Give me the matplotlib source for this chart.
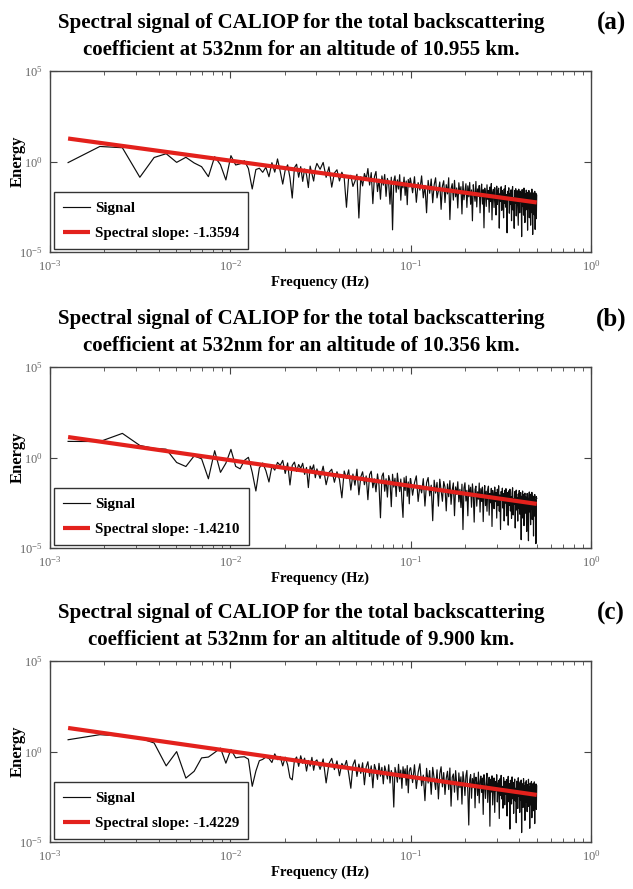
import numpy as np
import matplotlib
matplotlib.use("Agg")
import matplotlib.pyplot as plt

plt.rcParams['font.family'] = ['Liberation Serif', 'DejaVu Serif']
plt.rcParams['mathtext.fontset'] = 'custom'
plt.rcParams['mathtext.rm'] = 'Liberation Serif'
plt.rcParams['mathtext.it'] = 'Liberation Serif:italic'

# panel texts
panel_tags = ['(a)', '(b)', '(c)']
altitudes = ['10.955', '10.356', '9.900']

# fitted spectral slopes and fit value (log10 energy) at the first frequency
fit_slopes = [-1.3594, -1.4210, -1.4229]
fit_start = [1.27, 1.13, 1.30]

# frequency ranges (Hz) of the three pieces of the spectrum
f_low = (0.00126, 0.0296)
f_mid = (0.0302, 0.0995)
f_high = (0.1, 0.5)

# signal: log10 deviation from the fitted line
a_low = [-1.33, -0.2, -0.1, -1.6, -0.4, -0.1, -0.5, -0.15, -0.4, -0.55,
         -1.05, 0.1, -0.3, -1.1, 0.28, -0.2, -0.1, 0.1, -0.3, -1.4,
         -0.3, -0.2, -0.4, -0.1, -0.6, 0.2, -0.3, 0.45, -0.2, -0.9,
         -0.1, 0.2, -0.5, -1.6, 0.1, 0.3, -0.4, 0.2, -0.6, 0.1,
         -0.2, -0.9, 0.3, -0.1, -0.5, 0.2]
a_mid = [0.5, 0.2, 0.6, -0.2, 0.4, -0.7, 0.1, 0.3, -0.3, 0.2,
         -0.1, -1.7, 0.0, 0.1, -0.5, -0.2, 0.2, -2.2, 0.1, -0.4,
         0.3, 0.0, 0.6, -0.3, 0.4, -1.3, 0.2, 0.5, -0.6, 0.1,
         -1.0, 0.3, -0.2, 0.4, -0.8, 0.2, -0.1, -1.2, 0.3, -2.6,
         0.1, 0.4, -0.5, 0.2, -0.3, 0.5, -0.9, 0.1, -0.2, 0.4,
         -0.6, 0.2, -1.1, 0.3, -0.1, 0.4]
a_high = [0.3, -0.4, 0.5, -0.9, 0.2, -0.2, 0.6, -0.6, 0.1, -1.4, 0.4, -0.3, 0.5, -0.8, 0.2, 0.6, -0.5, -0.1, 0.4, -1.1,
          0.2, 0.5, -0.7, 0.3, -0.2, 0.7, -1.6, 0.1, 0.4, -0.5, 0.6, -0.3, 0.2, -0.9, 0.5, -0.1, 0.3, -1.2, 0.6, -0.4,
          0.1, 0.5, -0.8, 0.4, -0.2, 0.6, -0.6, 0.2, -1.5, 0.5, 0.0, -0.4, 0.7, -0.7, 0.3, -0.1, 0.5, -1.0, 0.2, 0.6,
          -0.5, 0.3, -1.8, 0.4, 0.1, -0.6, 0.6, -0.2, 0.3, -0.9, 0.5, -0.3, 0.7, -1.3, 0.2, 0.4, -0.6, 0.5, -0.1, -1.0,
          0.6, -0.4, 0.3, 0.5, -1.7, 0.2, -0.2, 0.6, -0.7, 0.4, 0.1, -1.1, 0.5, -0.3, 0.7, -0.5, 0.2, -1.9, 0.4, 0.0,
          0.6, -0.8, 0.3, -0.3, 0.5, -1.2, 0.4, 0.7, -0.6, 0.1, -1.6, 0.5, -0.2, 0.6, -0.9, 0.3, 0.5, -0.4, -1.4, 0.6,
          0.2, -0.7, 0.5, -0.1, 0.4, -2.0, 0.6, -0.3, 0.3, -0.8, 0.7, 0.0, -1.2, 0.4, -0.5, 0.6, -0.2, 0.3, -1.6, 0.5,
          -0.4, 0.6, -0.9, 0.2, 0.4, -1.3, 0.5, -0.6, 0.7, -0.1, -1.8, 0.3, 0.5, 0.3, -0.7, 0.6, -1.5, 0.2, 0.5, -0.9,
          0.4]

b_low = [-0.24, 0.0, 0.63, 0.1, 0.05, 0.1, -0.55, -0.7, -0.05, -0.15,
         -1.2, 0.4, -0.75, -0.2, 0.6, -0.3, -0.4, 0.1, 0.3, -0.5,
         -1.5, -0.2, 0.1, -0.3, -0.9, 0.0, -0.2, 0.25, 0.1, 0.4,
         -0.3, 0.3, -0.9, 0.2, 0.4, -0.1, 0.3, 0.1, 0.4, -0.2,
         0.2, -0.9, 0.3, 0.1, 0.4, -0.3]
b_mid = [0.2, -0.3, 0.4, -0.6, 0.1, 0.3, -0.4, 0.2, -0.2, -1.2,
         0.3, -0.1, 0.4, -0.7, 0.2, -0.4, 0.5, -0.9, 0.1, 0.4,
         -0.3, 0.2, -1.1, 0.3, 0.5, -0.4, 0.1, -0.6, 0.4, -0.2,
         -2.0, 0.3, 0.5, -0.5, 0.2, -0.8, 0.4, 0.1, -1.3, 0.5,
         -0.2, 0.3, -0.7, 0.6, 0.0, -0.4, 0.3, -0.9, -1.8, 0.4,
         -0.3, 0.5, -0.6, 0.2, -1.0, 0.4]
b_high = [0.4, -0.5, 0.2, 0.6, -0.8, 0.1, -0.3, 0.5, -1.0, 0.3, 0.6, -0.4, 0.2, -1.75, 0.5, -0.2, 0.4, -0.9, 0.6, 0.0,
          -0.6, 0.5, 0.2, -1.1, 0.4, -0.3, 0.6, -0.7, 0.1, 0.5, -1.3, 0.3, -0.1, 0.6, -0.5, 0.2, -0.8, 0.5, -2.0, 0.3,
          0.6, -0.4, 0.2, -1.2, 0.5, -0.1, 0.4, -0.7, 0.6, 0.0, -1.5, 0.3, 0.5, -0.6, 0.2, -0.2, 0.7, -0.9, 0.4, -0.3,
          0.5, -1.4, 0.1, 0.6, -0.5, 0.3, -0.8, 0.4, 0.6, -1.0, 0.2, -0.3, 0.5, -1.6, 0.4, 0.1, -0.6, 0.6, -0.2, 0.3,
          -1.1, 0.5, -0.4, 0.7, -0.7, 0.2, -1.7, 0.4, 0.0, 0.6, -0.5, 0.3, -1.2, 0.5, -0.2, 0.6, -0.9, 0.1, 0.4, -1.4,
          0.5, -0.3, 0.6, -0.6, 0.2, -1.0, 0.4, 0.7, -0.8, 0.1, -0.2, 0.5, -1.5, 0.3, 0.6, -0.5, 0.2, -1.1, 0.4, -0.4,
          0.6, -0.7, 0.1, 0.5, -2.1, 0.3, -0.2, 0.6, -0.9, 0.4, -1.3, 0.2, 0.5, -0.6, 0.3, -0.1, -1.6, 0.5, 0.2, -0.8,
          -2.1, 0.4, 0.6, -0.5, 0.1, -1.2, 0.5, -0.3, 0.6, -0.9, 0.2, 0.4, -1.8, 0.3, -0.4, 0.5, -0.7, 0.2, -2.2, 0.4,
          0.3]

c_low = [-0.65, -0.12, -0.02, 0.0, -0.15, -1.32, -0.45, -1.84, -1.4, -0.6,
         -0.5, -0.2, 0.09, -0.7, 0.1, -0.33, -0.25, -0.2, -0.3, -1.77,
         -0.9, -0.3, -0.2, -0.05, -0.1, -0.3, 0.2, -0.1, 0.1, -0.4,
         0.1, -0.3, -1.0, -1.1, 0.0, 0.2, -0.3, 0.3, -0.1, 0.2,
         -0.5, 0.1, -0.2, 0.3, -0.4, 0.1]
c_mid = [0.2, -0.3, 0.3, -1.0, 0.1, 0.4, -0.2, 0.3, -0.5, 0.2,
         0.0, 0.4, -0.3, -1.1, 0.2, 0.5, -0.4, 0.3, -0.2, 0.4,
         -0.8, 0.2, 0.5, -0.3, 0.3, -0.9, 0.4, 0.1, -0.4, 0.5,
         -0.2, 0.3, -0.6, 0.4, 0.1, -0.3, 0.5, -0.5, 0.2, -0.1,
         -1.8, 0.4, 0.1, -0.4, 0.6, -0.2, 0.3, -0.7, 0.5, 0.0,
         0.4, -0.5, 0.6, -0.9, 0.3, 0.5]
c_high = [0.5, -0.3, 0.7, -0.6, 0.3, 0.8, -0.4, 0.2, -1.2, 0.6, -0.2, 0.5, -0.8, 0.7, 0.1, -0.5, 0.6, -1.0, 0.4, 0.8,
          -0.3, 0.5, -0.7, 0.2, 0.6, -0.4, 0.8, -1.3, 0.3, 0.5, -0.5, 0.7, 0.0, -0.9, 0.6, -0.2, 0.4, -1.1, 0.7, 0.2,
          -0.6, 0.5, 0.8, -0.4, -2.2, 0.3, 0.6, -0.7, 0.4, -0.1, 0.7, -1.2, 0.5, 0.2, -0.5, 0.8, -0.9, 0.3, 0.6, -0.3,
          0.5, -1.5, 0.7, 0.1, -0.6, 0.4, 0.8, -0.8, 0.2, 0.6, -2.1, 0.5, -0.2, 0.7, -0.9, 0.3, 0.6, -1.3, 0.4, -0.1,
          0.8, -0.7, 0.3, 0.5, -1.6, 0.6, -0.3, 0.8, -0.5, 0.2, -1.0, 0.7, 0.4, -0.8, 0.5, -0.2, 0.6, -1.4, 0.3, 0.8,
          -0.6, 0.4, -2.1, 0.6, 0.1, -0.7, 0.8, -0.4, 0.5, -1.2, 0.3, 0.7, -0.5, 0.2, -1.7, 0.6, 0.4, -0.9, 0.8, -0.2,
          0.5, -1.1, 0.6, -0.4, 0.7, -2.2, 0.3, 0.5, -0.8, 0.8, -0.1, 0.4, -1.5, 0.6, -0.5, 0.7, 0.2, -1.0, 0.5, -0.3,
          0.8, -0.7, 0.4, -1.9, 0.6, 0.2, -0.6, 0.7, -1.3, 0.5, -0.2, 0.6, -0.9, 0.4, 0.7, -1.6, 0.3, -0.4, 0.6, -0.8,
          0.5]

signal_dev = [(a_low, a_mid, a_high), (b_low, b_mid, b_high), (c_low, c_mid, c_high)]

# axes boxes in pixels (top, bottom) for a 633x889 figure
W, H = 633, 889
ax_left, ax_right = 50, 591
ax_rows = [(71, 252), (367, 548), (661, 842)]

fig = plt.figure(figsize=(6.33, 8.89), dpi=100)

for i in range(3):
    top, bot = ax_rows[i]
    ax = fig.add_axes([ax_left / W, (H - bot) / H, (ax_right - ax_left) / W, (bot - top) / H])

    low, mid, high = signal_dev[i]
    freq = np.concatenate([np.linspace(f_low[0], f_low[1], len(low)),
                           np.linspace(f_mid[0], f_mid[1], len(mid)),
                           np.linspace(f_high[0], f_high[1], len(high))])
    dev = np.array(low + mid + high)

    # fitted power law through the first frequency
    fit_log = fit_start[i] + fit_slopes[i] * (np.log10(freq) - np.log10(freq[0]))
    fit = 10 ** fit_log
    sig = 10 ** (fit_log + dev)

    ax.loglog(freq, sig, color='#0d0d0d', lw=0.85, label='Signal', zorder=2)
    ax.loglog(freq, fit, color='#e3211c', lw=3.0, solid_capstyle='butt',
              label='Spectral slope: %.4f' % fit_slopes[i], zorder=3)

    ax.set_xlim(1e-3, 1e0)
    ax.set_ylim(1e-5, 1e5)
    ax.set_xticks([1e-3, 1e-2, 1e-1, 1e0])
    ax.set_xticklabels(['$10^{-3}$', '$10^{-2}$', '$10^{-1}$', '$10^{0}$'])
    ax.set_xticks([m * 10.0 ** e for e in (-3, -2, -1) for m in range(2, 10)], minor=True)
    ax.set_yticks([1e-5, 1e0, 1e5])
    ax.set_yticklabels(['$10^{-5}$', '$10^{0}$', '$10^{5}$'])
    ax.yaxis.set_minor_locator(matplotlib.ticker.NullLocator())
    ax.tick_params(which='both', direction='in', top=True, right=True,
                   color='#444444', labelcolor='#666666', labelsize=9, pad=5)
    ax.tick_params(which='major', length=5)
    ax.tick_params(which='minor', length=3)
    for s in ax.spines.values():
        s.set_color('#444444')
        s.set_linewidth(1.0)

    leg = ax.legend(loc='lower left', bbox_to_anchor=(0.007, 0.015), borderaxespad=0,
                    fancybox=False, framealpha=1, edgecolor='#333333',
                    handlelength=1.8, handletextpad=0.35, labelspacing=0.8,
                    borderpad=0.6, prop={'weight': 'bold', 'size': 10.8})
    leg.get_frame().set_linewidth(1.0)

    # titles and labels in figure pixels
    y0 = top - 71
    fig.text(301 / W, 1 - (y0 + 23) / H,
             'Spectral signal of CALIOP for the total backscattering',
             ha='center', va='center', fontsize=15, fontweight='bold')
    fig.text(301 / W, 1 - (y0 + 50) / H,
             'coefficient at 532nm for an altitude of %s km.' % altitudes[i],
             ha='center', va='center', fontsize=15, fontweight='bold')
    fig.text(611 / W, 1 - (y0 + 23) / H, panel_tags[i],
             ha='center', va='center', fontsize=18, fontweight='bold')
    fig.text(18 / W, 1 - ((top + bot) / 2) / H, 'Energy', rotation=90,
             ha='center', va='center', fontsize=12, fontweight='bold')
    fig.text(320 / W, 1 - (bot + 30) / H, 'Frequency (Hz)',
             ha='center', va='center', fontsize=10.5, fontweight='bold')

plt.savefig('out.png', dpi=100)
